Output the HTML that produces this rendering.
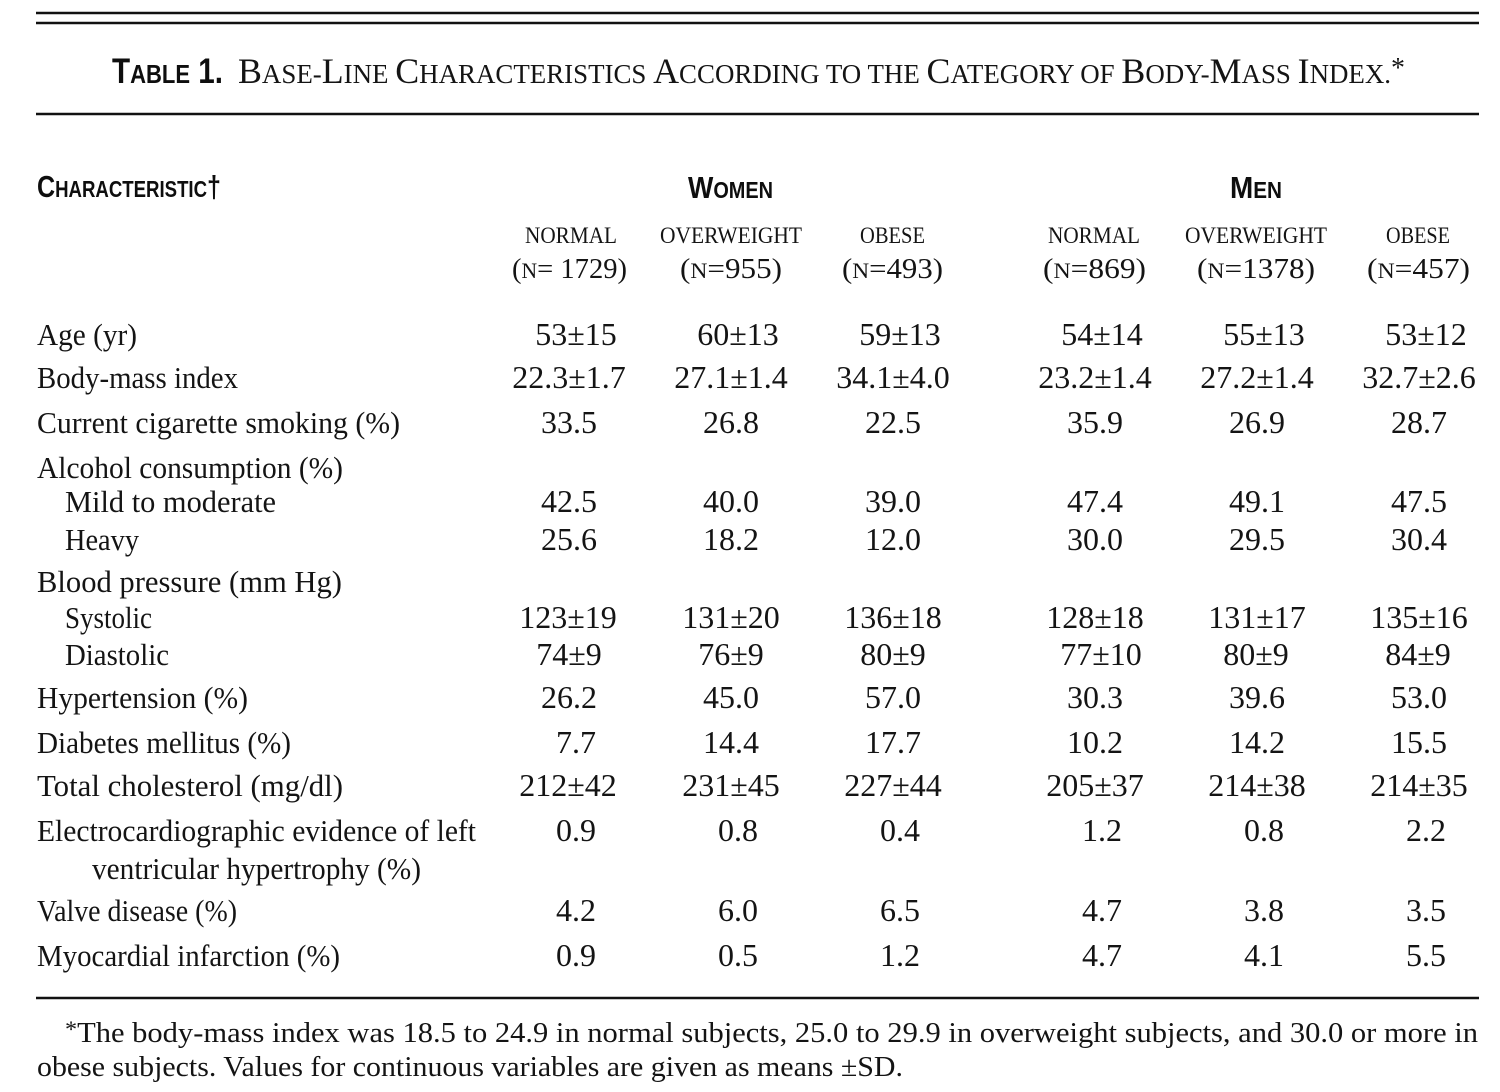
<!DOCTYPE html>
<html>
<head>
<meta charset="utf-8">
<style>
html,body{margin:0;padding:0;background:#fff;}
svg{display:block;}
.s{font-family:"Liberation Serif","DejaVu Serif",serif;fill:#141414;}
.b{font-family:"Liberation Sans","DejaVu Sans",sans-serif;font-weight:bold;fill:#0e0e0e;}
</style>
</head>
<body>
<svg width="1500" height="1092" viewBox="0 0 1500 1092" xmlns="http://www.w3.org/2000/svg">
<g stroke="#111" stroke-width="2.6">
<line x1="36" y1="13" x2="1479" y2="13"/>
<line x1="36" y1="23" x2="1479" y2="23"/>
<line x1="36" y1="114" x2="1479" y2="114"/>
<line x1="36" y1="998" x2="1479" y2="998"/>
</g>

<!-- Title -->
<text class="b" x="112" y="83" textLength="111" lengthAdjust="spacingAndGlyphs"><tspan font-size="35">T</tspan><tspan font-size="26">ABLE</tspan><tspan font-size="35"> 1.</tspan></text>
<text class="s" x="238" y="83" textLength="1167" lengthAdjust="spacingAndGlyphs"><tspan font-size="36">B</tspan><tspan font-size="27">ASE-</tspan><tspan font-size="36">L</tspan><tspan font-size="27">INE </tspan><tspan font-size="36">C</tspan><tspan font-size="27">HARACTERISTICS </tspan><tspan font-size="36">A</tspan><tspan font-size="27">CCORDING TO THE </tspan><tspan font-size="36">C</tspan><tspan font-size="27">ATEGORY OF </tspan><tspan font-size="36">B</tspan><tspan font-size="27">ODY-</tspan><tspan font-size="36">M</tspan><tspan font-size="27">ASS </tspan><tspan font-size="36">I</tspan><tspan font-size="27">NDEX.</tspan><tspan font-size="28" dy="-6">*</tspan></text>

<!-- Headers -->
<text class="b" x="37" y="197" textLength="184" lengthAdjust="spacingAndGlyphs"><tspan font-size="31">C</tspan><tspan font-size="23">HARACTERISTIC</tspan><tspan font-size="31">†</tspan></text>
<text class="b" x="688" y="198" textLength="85" lengthAdjust="spacingAndGlyphs"><tspan font-size="31">W</tspan><tspan font-size="23">OMEN</tspan></text>
<text class="b" x="1230" y="198" textLength="52" lengthAdjust="spacingAndGlyphs"><tspan font-size="31">M</tspan><tspan font-size="23">EN</tspan></text>

<g class="s" font-size="23">
<text x="525" y="243" textLength="92" lengthAdjust="spacingAndGlyphs">NORMAL</text>
<text x="660" y="243" textLength="142" lengthAdjust="spacingAndGlyphs">OVERWEIGHT</text>
<text x="860" y="243" textLength="65" lengthAdjust="spacingAndGlyphs">OBESE</text>
<text x="1048" y="243" textLength="92" lengthAdjust="spacingAndGlyphs">NORMAL</text>
<text x="1185" y="243" textLength="142" lengthAdjust="spacingAndGlyphs">OVERWEIGHT</text>
<text x="1386" y="243" textLength="64" lengthAdjust="spacingAndGlyphs">OBESE</text>
</g>
<g class="s" font-size="29">
<text x="512" y="278" textLength="115" lengthAdjust="spacingAndGlyphs">(<tspan font-size="22">N</tspan>= 1729)</text>
<text x="680" y="278" textLength="102" lengthAdjust="spacingAndGlyphs">(<tspan font-size="22">N</tspan>=955)</text>
<text x="842" y="278" textLength="101" lengthAdjust="spacingAndGlyphs">(<tspan font-size="22">N</tspan>=493)</text>
<text x="1043" y="278" textLength="103" lengthAdjust="spacingAndGlyphs">(<tspan font-size="22">N</tspan>=869)</text>
<text x="1197" y="278" textLength="118" lengthAdjust="spacingAndGlyphs">(<tspan font-size="22">N</tspan>=1378)</text>
<text x="1367" y="278" textLength="103" lengthAdjust="spacingAndGlyphs">(<tspan font-size="22">N</tspan>=457)</text>
</g>

<!-- Row labels -->
<g class="s" font-size="31">
<text x="37" y="345" textLength="100" lengthAdjust="spacingAndGlyphs">Age (yr)</text>
<text x="37" y="388" textLength="201" lengthAdjust="spacingAndGlyphs">Body-mass index</text>
<text x="37" y="433" textLength="363" lengthAdjust="spacingAndGlyphs">Current cigarette smoking (%)</text>
<text x="37" y="478" textLength="306" lengthAdjust="spacingAndGlyphs">Alcohol consumption (%)</text>
<text x="65" y="512" textLength="211" lengthAdjust="spacingAndGlyphs">Mild to moderate</text>
<text x="65" y="550" textLength="74" lengthAdjust="spacingAndGlyphs">Heavy</text>
<text x="37" y="592" textLength="305" lengthAdjust="spacingAndGlyphs">Blood pressure (mm Hg)</text>
<text x="65" y="628" textLength="87" lengthAdjust="spacingAndGlyphs">Systolic</text>
<text x="65" y="665" textLength="104" lengthAdjust="spacingAndGlyphs">Diastolic</text>
<text x="37" y="708" textLength="211" lengthAdjust="spacingAndGlyphs">Hypertension (%)</text>
<text x="37" y="753" textLength="254" lengthAdjust="spacingAndGlyphs">Diabetes mellitus (%)</text>
<text x="37" y="796" textLength="306" lengthAdjust="spacingAndGlyphs">Total cholesterol (mg/dl)</text>
<text x="37" y="841" textLength="439" lengthAdjust="spacingAndGlyphs">Electrocardiographic evidence of left</text>
<text x="92" y="879" textLength="329" lengthAdjust="spacingAndGlyphs">ventricular hypertrophy (%)</text>
<text x="37" y="921" textLength="200" lengthAdjust="spacingAndGlyphs">Valve disease (%)</text>
<text x="37" y="966" textLength="303" lengthAdjust="spacingAndGlyphs">Myocardial infarction (%)</text>
</g>

<!-- Data -->
<g class="s" font-size="32" text-anchor="middle">
<text x="576" y="345">53±15</text><text x="738" y="345">60±13</text><text x="900" y="345">59±13</text>
<text x="1102" y="345">54±14</text><text x="1264" y="345">55±13</text><text x="1426" y="345">53±12</text>
<text x="569" y="388">22.3±1.7</text><text x="731" y="388">27.1±1.4</text><text x="893" y="388">34.1±4.0</text>
<text x="1095" y="388">23.2±1.4</text><text x="1257" y="388">27.2±1.4</text><text x="1419" y="388">32.7±2.6</text>
<text x="569" y="433">33.5</text><text x="731" y="433">26.8</text><text x="893" y="433">22.5</text>
<text x="1095" y="433">35.9</text><text x="1257" y="433">26.9</text><text x="1419" y="433">28.7</text>
<text x="569" y="512">42.5</text><text x="731" y="512">40.0</text><text x="893" y="512">39.0</text>
<text x="1095" y="512">47.4</text><text x="1257" y="512">49.1</text><text x="1419" y="512">47.5</text>
<text x="569" y="550">25.6</text><text x="731" y="550">18.2</text><text x="893" y="550">12.0</text>
<text x="1095" y="550">30.0</text><text x="1257" y="550">29.5</text><text x="1419" y="550">30.4</text>
<text x="568" y="628">123±19</text><text x="731" y="628">131±20</text><text x="893" y="628">136±18</text>
<text x="1095" y="628">128±18</text><text x="1257" y="628">131±17</text><text x="1419" y="628">135±16</text>
<text x="569" y="665">74±9</text><text x="731" y="665">76±9</text><text x="893" y="665">80±9</text>
<text x="1101" y="665">77±10</text><text x="1256" y="665">80±9</text><text x="1418" y="665">84±9</text>
<text x="569" y="708">26.2</text><text x="731" y="708">45.0</text><text x="893" y="708">57.0</text>
<text x="1095" y="708">30.3</text><text x="1257" y="708">39.6</text><text x="1419" y="708">53.0</text>
<text x="576" y="753">7.7</text><text x="731" y="753">14.4</text><text x="893" y="753">17.7</text>
<text x="1095" y="753">10.2</text><text x="1257" y="753">14.2</text><text x="1419" y="753">15.5</text>
<text x="568" y="796">212±42</text><text x="731" y="796">231±45</text><text x="893" y="796">227±44</text>
<text x="1095" y="796">205±37</text><text x="1257" y="796">214±38</text><text x="1419" y="796">214±35</text>
<text x="576" y="841">0.9</text><text x="738" y="841">0.8</text><text x="900" y="841">0.4</text>
<text x="1102" y="841">1.2</text><text x="1264" y="841">0.8</text><text x="1426" y="841">2.2</text>
<text x="576" y="921">4.2</text><text x="738" y="921">6.0</text><text x="900" y="921">6.5</text>
<text x="1102" y="921">4.7</text><text x="1264" y="921">3.8</text><text x="1426" y="921">3.5</text>
<text x="576" y="966">0.9</text><text x="738" y="966">0.5</text><text x="900" y="966">1.2</text>
<text x="1102" y="966">4.7</text><text x="1264" y="966">4.1</text><text x="1426" y="966">5.5</text>
</g>

<!-- Footnote -->
<g class="s" font-size="29">
<text x="65" y="1042" textLength="1413" lengthAdjust="spacingAndGlyphs"><tspan dy="-5" font-size="23">*</tspan><tspan dy="5">The body-mass index was 18.5 to 24.9 in normal subjects, 25.0 to 29.9 in overweight subjects, and 30.0 or more in</tspan></text>
<text x="37" y="1076" textLength="866" lengthAdjust="spacingAndGlyphs">obese subjects. Values for continuous variables are given as means ±SD.</text>
</g>
</svg>
</body>
</html>
